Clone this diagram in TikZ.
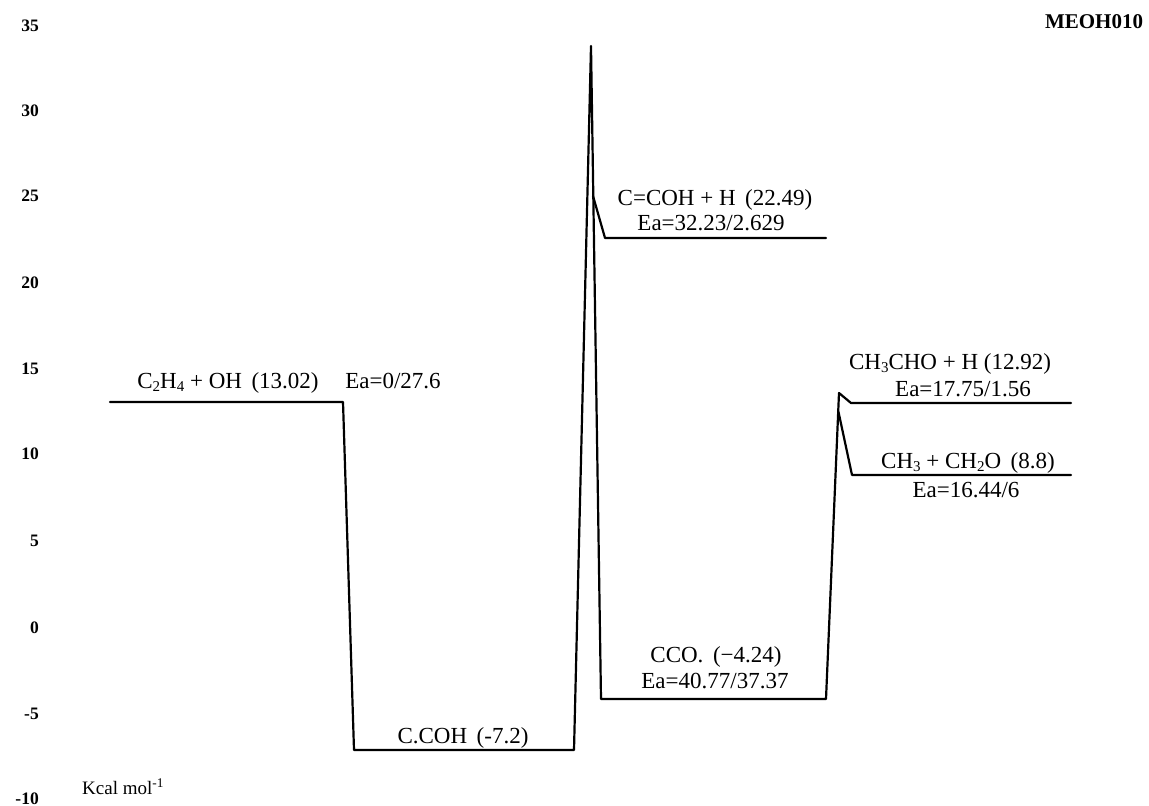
\documentclass[tikz,border=0pt]{standalone}
\usepackage{fontspec}
\setmainfont{Liberation Serif}
\newcommand{\chsub}[1]{\raisebox{-0.3ex}{\fontsize{15}{15}\selectfont #1}}
\tikzset{
  lvl/.style={line width=2.2pt, line join=round, line cap=round},
  lab/.style={anchor=base, inner sep=0pt, font=\fontsize{23}{25}\selectfont},
  axl/.style={anchor=base east, inner sep=0pt, font=\fontsize{17.5}{19}\selectfont\bfseries},
}
\begin{document}
\begin{tikzpicture}[x=1pt,y=-1pt]
\useasboundingbox (0,0) rectangle (1149,806);
% axis labels
\node[axl] (y35) at (39,31) {35};
\node[axl] (y30) at (39,116) {30};
\node[axl] (y25) at (39,201) {25};
\node[axl] (y20) at (39,288) {20};
\node[axl] (y15) at (39,374) {15};
\node[axl] (y10) at (39,459) {10};
\node[axl] (y5) at (39,546) {5};
\node[axl] (y0) at (39,633) {0};
\node[axl] (ym5) at (39,719) {-5};
\node[axl] (ym10) at (39,804) {-10};
\node[anchor=base west, inner sep=0pt, font=\fontsize{19}{21}\selectfont] (unit) at (82,794) {Kcal mol\textsuperscript{-1}};
\node[anchor=base, inner sep=0pt, font=\fontsize{21}{23}\selectfont\bfseries] (title) at (1094,28) {MEOH010};
% points
\coordinate (a1) at (110,402);
\coordinate (a2) at (343,402);
\coordinate (b1) at (354,750);
\coordinate (b2) at (574,750);
\coordinate (ts1) at (591,46);
\coordinate (c1) at (601,699);
\coordinate (c2) at (826,699);
\coordinate (tsB) at (593,196);
\coordinate (d1) at (605,238);
\coordinate (d2) at (826,238);
\coordinate (ts2) at (839,393);
\coordinate (e1) at (851,403);
\coordinate (e2) at (1071,403);
\coordinate (ts3) at (838.5,412);
\coordinate (f1) at (852,475);
\coordinate (f2) at (1071,475);
% profile
\draw[lvl] (a1) -- (a2) -- (b1) -- (b2) -- (ts1) -- (c1) -- (c2) -- (ts2) -- (e1) -- (e2);
\draw[lvl] (tsB) -- (d1) -- (d2);
\draw[lvl] (ts3) -- (f1) -- (f2);
% labels
\node[lab] (l1) at (228,388) {C\chsub{2}H\chsub{4} + OH\, (13.02)};
\node[lab] (l1e) at (393,388) {Ea=0/27.6};
\node[lab] (l2) at (463,743) {C.COH\, (-7.2)};
\node[lab] (l3) at (715,205) {C=COH + H\, (22.49)};
\node[lab] (l3e) at (711,230) {Ea=32.23/2.629};
\node[lab] (l4) at (716,662) {CCO.\, (−4.24)};
\node[lab] (l4e) at (715,688) {Ea=40.77/37.37};
\node[lab] (l5) at (950,369) {CH\chsub{3}CHO + H (12.92)};
\node[lab] (l5e) at (963,396) {Ea=17.75/1.56};
\node[lab] (l6) at (968,468) {CH\chsub{3} + CH\chsub{2}O\, (8.8)};
\node[lab] (l6e) at (966,497) {Ea=16.44/6};
\end{tikzpicture}
\end{document}
